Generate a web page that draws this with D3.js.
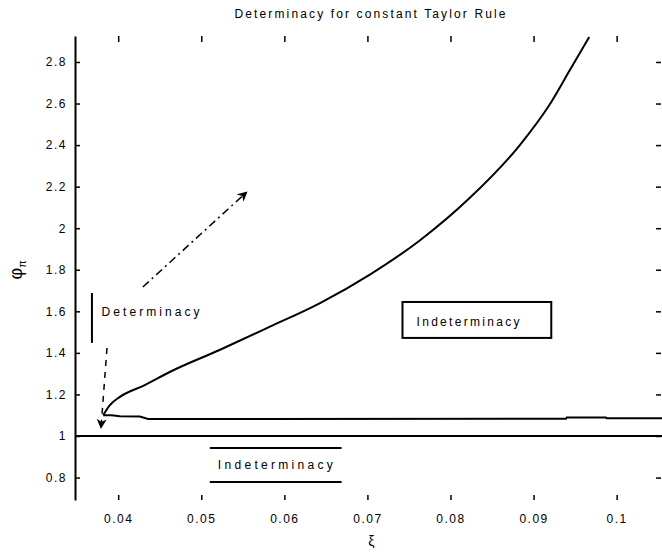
<!DOCTYPE html>
<html>
<head>
<meta charset="utf-8">
<script src="https://cdn.jsdelivr.net/npm/d3@7"></script>
<style>
  html, body { margin: 0; padding: 0; background: #fff; }
  svg { display: block; font-family: "Liberation Sans", Arial, Helvetica, sans-serif; }
</style>
</head>
<body>
<svg id="chart" width="662" height="555"></svg>
<script>
// Upper branch of the determinacy boundary
const upperX = [0.0382, 0.0390, 0.0402, 0.0432, 0.0462, 0.0522, 0.0582, 0.0643,
                0.0703, 0.0763, 0.0823, 0.0883, 0.0919, 0.0943, 0.0967];
const upperY = [1.101, 1.149, 1.188, 1.245, 1.308, 1.414, 1.525, 1.640,
                1.777, 1.941, 2.145, 2.398, 2.593, 2.756, 2.920];

// Lower branch of the determinacy boundary
const lowerX = [0.0382, 0.0392, 0.0402, 0.0426, 0.0436, 0.0939, 0.0940, 0.0987, 0.0988, 0.1057];
const lowerY = [1.100, 1.100, 1.095, 1.094, 1.082, 1.083, 1.089, 1.089, 1.086, 1.086];

// Taylor principle: coefficient equal to one
const unitX = [0.0348, 0.1057];
const unitY = [1, 1];

// Axis ticks
const xTicks = [0.04, 0.05, 0.06, 0.07, 0.08, 0.09, 0.1];
const yTicks = [0.8, 1, 1.2, 1.4, 1.6, 1.8, 2, 2.2, 2.4, 2.6, 2.8];

// Text
const titleText = "Determinacy for constant Taylor Rule";
const xLabelText = "ξ";
const yLabelMain = "φ";
const yLabelSub = "π";
const detText = "Determinacy";
const indetText = "Indeterminacy";

// ---- layout ----
const svg = d3.select("#chart");
const plot = { left: 75, right: 664, top: 36, bottom: 500 };

const x = d3.scaleLinear().domain([0.0348, 0.1057]).range([plot.left, plot.right]);
const y = d3.scaleLinear().domain([0.692, 2.925]).range([plot.bottom, plot.top]);

const fmt = d => String(+d.toFixed(2));

const defs = svg.append("defs");
defs.append("clipPath").attr("id", "plotClip")
  .append("rect")
  .attr("x", plot.left).attr("y", plot.top)
  .attr("width", plot.right - plot.left).attr("height", plot.bottom - plot.top);

defs.append("marker")
  .attr("id", "arrowHead")
  .attr("viewBox", "0 0 10 10")
  .attr("refX", 9).attr("refY", 5)
  .attr("markerWidth", 10).attr("markerHeight", 10)
  .attr("markerUnits", "userSpaceOnUse")
  .attr("orient", "auto")
  .append("path").attr("d", "M0,0 L10,5 L0,10 L3,5 Z").attr("fill", "#000");

// ---- axes ----
const tickStyle = g => {
  g.selectAll("line").attr("stroke", "#000").attr("stroke-width", 1.5);
  g.selectAll("text")
    .attr("fill", "#000")
    .style("font-size", "12px")
    .style("letter-spacing", "1.5px");
};

// left axis with labels
const gLeft = svg.append("g")
  .attr("transform", `translate(${plot.left},0)`)
  .call(d3.axisLeft(y).tickValues(yTicks).tickFormat(fmt).tickSizeInner(-5).tickSizeOuter(0).tickPadding(8))
  .call(tickStyle);
gLeft.select(".domain").attr("stroke", "#000").attr("stroke-width", 2);

// bottom axis with labels (no visible spine)
const gBottom = svg.append("g")
  .attr("transform", `translate(0,${plot.bottom})`)
  .call(d3.axisBottom(x).tickValues(xTicks).tickFormat(fmt).tickSizeInner(-5).tickSizeOuter(0).tickPadding(14))
  .call(tickStyle);
gBottom.select(".domain").remove();

// top and right ticks only
const gTop = svg.append("g")
  .attr("transform", `translate(0,${plot.top})`)
  .call(d3.axisTop(x).tickValues(xTicks).tickFormat("").tickSizeInner(-6).tickSizeOuter(0))
  .call(tickStyle);
gTop.select(".domain").remove();

const gRight = svg.append("g")
  .attr("transform", `translate(${plot.right - 3},0)`)
  .call(d3.axisRight(y).tickValues(yTicks).tickFormat("").tickSizeInner(-5).tickSizeOuter(0))
  .call(tickStyle);
gRight.select(".domain").remove();

// ---- lines ----
const line = d3.line().x(d => x(d[0])).y(d => y(d[1]));
const curved = d3.line().x(d => x(d[0])).y(d => y(d[1])).curve(d3.curveMonotoneX);

const gData = svg.append("g").attr("clip-path", "url(#plotClip)");

gData.append("path")
  .datum(d3.zip(unitX, unitY))
  .attr("d", line)
  .attr("fill", "none").attr("stroke", "#000").attr("stroke-width", 2);

gData.append("path")
  .datum(d3.zip(lowerX, lowerY))
  .attr("d", line)
  .attr("fill", "none").attr("stroke", "#000").attr("stroke-width", 2);

gData.append("path")
  .datum(d3.zip(upperX, upperY))
  .attr("d", curved)
  .attr("fill", "none").attr("stroke", "#000").attr("stroke-width", 2);

// ---- annotations ----
const ann = svg.append("g");

// "Determinacy" label with bar on its left
ann.append("line")
  .attr("x1", x(0.03684)).attr("x2", x(0.03684))
  .attr("y1", y(1.688)).attr("y2", y(1.448))
  .attr("stroke", "#000").attr("stroke-width", 2);
ann.append("text")
  .attr("x", x(0.0380)).attr("y", y(1.597))
  .attr("dy", "0.35em")
  .attr("textLength", 98).attr("lengthAdjust", "spacing")
  .style("font-size", "12px")
  .text(detText);

// dashed arrow pointing at the cusp
ann.append("line")
  .attr("x1", x(0.03865)).attr("y1", y(1.4235))
  .attr("x2", x(0.03793)).attr("y2", y(1.0385))
  .attr("stroke", "#000").attr("stroke-width", 1.5)
  .attr("stroke-dasharray", "6,6")
  .attr("marker-end", "url(#arrowHead)");

// dash-dot arrow into the determinacy region
ann.append("line")
  .attr("x1", x(0.04297)).attr("y1", y(1.717))
  .attr("x2", x(0.05547)).attr("y2", y(2.174))
  .attr("stroke", "#000").attr("stroke-width", 1.5)
  .attr("stroke-dasharray", "8,4,2,4")
  .attr("marker-end", "url(#arrowHead)");

// boxed "Indeterminacy" between the branches
ann.append("rect")
  .attr("x", x(0.07422)).attr("y", y(1.645))
  .attr("width", x(0.09213) - x(0.07422)).attr("height", y(1.472) - y(1.645))
  .attr("fill", "none").attr("stroke", "#000").attr("stroke-width", 2);
ann.append("text")
  .attr("x", x(0.07591)).attr("y", y(1.549))
  .attr("dy", "0.35em")
  .attr("textLength", 103).attr("lengthAdjust", "spacing")
  .style("font-size", "12px")
  .text(indetText);

// "Indeterminacy" below the unit line, ruled above and below
[0.9423, 0.7786].forEach(v => {
  ann.append("line")
    .attr("x1", x(0.05103)).attr("x2", x(0.06689))
    .attr("y1", y(v)).attr("y2", y(v))
    .attr("stroke", "#000").attr("stroke-width", 2);
});
ann.append("text")
  .attr("x", x(0.05199)).attr("y", y(0.8604))
  .attr("dy", "0.35em")
  .attr("textLength", 115).attr("lengthAdjust", "spacing")
  .style("font-size", "12px")
  .text(indetText);

// ---- titles ----
svg.append("text")
  .attr("x", 370).attr("y", 14)
  .attr("dy", "0.35em")
  .attr("text-anchor", "middle")
  .attr("textLength", 271).attr("lengthAdjust", "spacing")
  .style("font-size", "12px")
  .text(titleText);

svg.append("text")
  .attr("x", (plot.left + plot.right) / 2 + 2).attr("y", 541)
  .attr("dy", "0.35em")
  .attr("text-anchor", "middle")
  .style("font-size", "14px")
  .text(xLabelText);

const yl = svg.append("text")
  .attr("transform", `translate(22,${y(1.8)}) rotate(-90)`)
  .attr("text-anchor", "middle")
  .style("font-size", "18px");
yl.append("tspan").text(yLabelMain);
yl.append("tspan").attr("dy", "4").style("font-size", "11px").text(yLabelSub);
</script>
</body>
</html>
